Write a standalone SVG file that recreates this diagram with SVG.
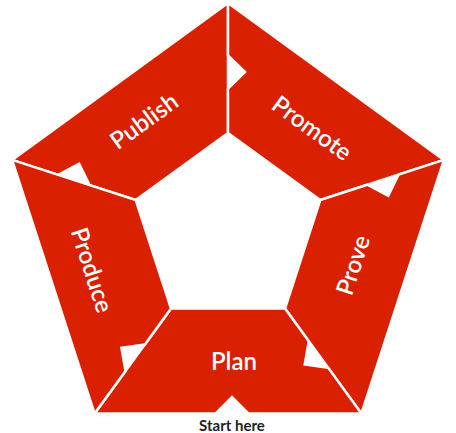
<svg xmlns="http://www.w3.org/2000/svg" width="456" height="433" viewBox="0 0 456 433">
<style>
.seg{fill:#D92000;stroke:#FFFFFF;stroke-width:2.5;stroke-linejoin:miter}
.lbl{font-family:Lato,"Liberation Sans",sans-serif;font-size:24px;font-weight:600;fill:#FFFFFF;text-anchor:middle}
.start{font-family:Lato,"Liberation Sans",sans-serif;font-size:15px;font-weight:bold;fill:#222222;text-anchor:middle}
</style>
<rect width="456" height="433" fill="#FFFFFF"/>
<g id="connectors"></g>
<g id="publish">
<polygon class="seg" points="12.1,159.9 228,3 228,133 135.75,200 89.6,185.1 79.1,163.8 58.2,174.9"/>
<text class="lbl" transform="translate(144,121) rotate(-36)" y="8.5">Publish</text>
</g>
<g id="promote">
<polygon class="seg" points="228,3 443.9,159.9 320.25,200 228,133 228,88.5 245,72 228,55.5"/>
<text class="lbl" transform="translate(312,128) rotate(36)" y="8.5">Promote</text>
</g>
<g id="prove">
<polygon class="seg" points="443.9,159.9 361.4,413.6 285,308.5 320.25,200 367.3,184.7 388.2,195.8 398.7,174.5"/>
<text class="lbl" transform="translate(353,265) rotate(-72)" y="8.5">Prove</text>
</g>
<g id="plan">
<polygon class="seg" points="361.4,413.6 248.5,413.6 232,397 215.5,413.6 94.6,413.6 171,308.5 285,308.5 308.8,341.2 304.7,364.5 328.2,367.8"/>
<text class="lbl" x="234" y="370">Plan</text>
</g>
<g id="produce">
<polygon class="seg" points="94.6,413.6 12.1,159.9 135.75,200 171,308.5 144.9,344.5 121.4,347.8 125.5,371.1"/>
<text class="lbl" transform="translate(92,270) rotate(72)" y="8.5">Produce</text>
</g>
<g id="start-here">
<text class="start" x="232" y="431">Start here</text>
</g>
</svg>
